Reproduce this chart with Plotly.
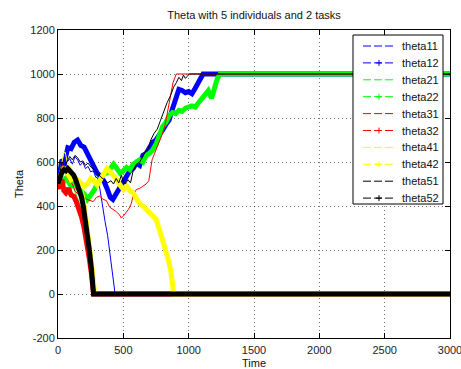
import plotly.graph_objects as go

# Series names, colours and line kinds (thin dashed "1" series, thick "+" series)
names = ["theta11", "theta12", "theta21", "theta22", "theta31",
         "theta32", "theta41", "theta42", "theta51", "theta52"]
colors = ["#0000ff", "#0000ff", "#00ff00", "#00ff00", "#ff0000",
          "#ff0000", "#ffff00", "#ffff00", "#000000", "#000000"]

x_ticks = [0, 500, 1000, 1500, 2000, 2500, 3000]
y_ticks = [-200, 0, 200, 400, 600, 800, 1000, 1200]

t11 = [0, 15, 30, 50, 70, 90, 110, 130, 150, 170, 190, 210, 230, 250, 270, 290,
       300, 320, 340, 360, 380, 395, 410, 425, 437, 3000]
v11 = [500, 540, 575, 560, 600, 615, 590, 625, 610, 585, 600, 570, 580, 555, 560, 530,
       530, 480, 400, 330, 265, 200, 130, 60, 0, 0]

t12 = [0, 15, 30, 50, 75, 100, 125, 150, 175, 200, 225, 250, 275, 300, 325, 350,
       375, 400, 420, 440, 460, 480, 500, 525, 550, 575, 600, 625, 650, 675, 700,
       725, 750, 775, 800, 825, 850, 875, 900, 925, 950, 975, 1000, 1025, 1050,
       1075, 1095, 1110, 3000]
v12 = [500, 560, 610, 600, 665, 660, 690, 700, 675, 668, 640, 610, 585, 550, 535, 515,
       480, 440, 430, 450, 470, 490, 505, 530, 560, 570, 595, 585, 630, 640, 670,
       690, 700, 720, 745, 770, 790, 840, 890, 930, 925, 915, 920, 910, 935,
       960, 990, 1000, 1000]

t21 = [0, 20, 40, 60, 80, 100, 120, 140, 160, 180, 200, 220, 240, 260, 280, 3000]
v21 = [500, 530, 555, 540, 520, 505, 480, 450, 420, 380, 320, 250, 170, 90, 0, 0]

t22 = [0, 20, 40, 60, 80, 100, 125, 150, 175, 200, 225, 250, 275, 300, 325, 350,
       375, 400, 425, 450, 475, 500, 525, 550, 575, 600, 625, 650, 675, 700, 725,
       750, 775, 800, 825, 850, 875, 900, 925, 950, 975, 1000, 1025, 1050, 1075,
       1100, 1125, 1150, 1175, 1200, 1220, 1240, 3000]
v22 = [500, 520, 505, 530, 510, 490, 515, 480, 470, 455, 430, 450, 470, 500, 520, 545,
       550, 575, 590, 570, 550, 560, 575, 565, 590, 600, 610, 600, 630, 640, 655,
       680, 715, 760, 780, 810, 825, 820, 835, 830, 845, 850, 855, 850, 870,
       890, 905, 925, 890, 950, 980, 1000, 1000]

t31 = [0, 15, 30, 50, 70, 90, 110, 130, 150, 175, 200, 220, 245, 270, 295, 320,
       345, 370, 395, 420, 445, 470, 485, 500, 520, 540, 560, 580, 600, 625, 650,
       675, 695, 705, 720, 740, 760, 780, 800, 820, 840, 860, 880, 905, 3000]
v31 = [500, 550, 590, 555, 530, 510, 500, 470, 455, 450, 440, 430, 425, 420, 440, 445,
       430, 425, 395, 385, 375, 360, 345, 355, 370, 385, 410, 455, 475, 480, 490,
       500, 515, 560, 610, 640, 670, 700, 730, 770, 830, 900, 960, 1000, 1000]

t32 = [0, 15, 30, 45, 60, 80, 100, 120, 140, 160, 180, 200, 220, 240, 255, 272, 3000]
v32 = [500, 480, 520, 470, 460, 480, 450, 445, 420, 390, 350, 300, 240, 160, 95, 0, 0]

t41 = [0, 15, 30, 45, 55, 70, 90, 110, 130, 150, 170, 190, 210, 230, 250, 270, 285,
       295, 3000]
v41 = [500, 560, 600, 640, 645, 600, 585, 560, 540, 530, 520, 480, 420, 340, 250, 150, 70,
       0, 0]

t42 = [0, 20, 40, 60, 80, 100, 125, 150, 175, 200, 225, 250, 275, 300, 325, 350,
       375, 400, 425, 450, 475, 500, 525, 550, 575, 600, 625, 650, 675, 700, 725,
       750, 775, 800, 825, 845, 865, 878, 885, 3000]
v42 = [500, 545, 575, 560, 540, 520, 530, 520, 505, 490, 500, 525, 515, 495, 520, 550,
       570, 555, 540, 520, 495, 475, 490, 470, 460, 430, 410, 400, 385, 370, 355,
       340, 295, 250, 200, 155, 100, 45, 0, 0]

t51 = [0, 15, 30, 50, 70, 90, 110, 130, 150, 170, 190, 210, 230, 255, 280, 305,
       330, 355, 380, 405, 425, 445, 465, 485, 500, 515, 535, 555, 575, 600, 625,
       650, 670, 690, 710, 735, 760, 785, 810, 835, 860, 885, 905, 925, 945, 960,
       975, 990, 1005, 3000]
v51 = [500, 560, 600, 580, 605, 625, 610, 630, 620, 600, 605, 585, 595, 575, 565, 545,
       530, 520, 505, 515, 500, 525, 505, 540, 510, 500, 520, 505, 560, 590, 600,
       625, 650, 660, 700, 730, 750, 790, 830, 870, 900, 940, 960, 985, 970, 995,
       980, 990, 1000, 1000]

t52 = [0, 15, 30, 45, 60, 75, 90, 105, 120, 135, 150, 165, 180, 195, 210, 225, 240,
       255, 265, 272, 3000]
v52 = [500, 530, 555, 565, 560, 570, 560, 545, 540, 520, 495, 470, 440, 395, 340, 280,
       200, 120, 60, 0, 0]

times = [t11, t12, t21, t22, t31, t32, t41, t42, t51, t52]
values = [v11, v12, v21, v22, v31, v32, v41, v42, v51, v52]

FONT = "Liberation Sans, Arial, sans-serif"
W, H = 461, 369
ML, MR, MT, MB = 58, 11, 30, 31

fig = go.Figure()
for name, col, t, v in zip(names, colors, times, values):
    thick = name.endswith("2")
    fig.add_trace(go.Scatter(
        x=t, y=v, mode="lines", name=name, showlegend=False,
        line=dict(color=col, width=5 if thick else 1),
        hoverinfo="x+y+name",
    ))

# Legend box drawn in pixel space of the page, converted to paper units
PW, PH = W - ML - MR, H - MT - MB


def px(x):
    return (x - ML) / PW


def py(y):
    return (H - MB - y) / PH


shapes = [dict(type="rect", xref="paper", yref="paper",
               x0=px(353), x1=px(443), y0=py(204), y1=py(35),
               line=dict(color="black", width=1), fillcolor="white", layer="above")]
annotations = []
for i, (name, col) in enumerate(zip(names, colors)):
    yy = 46 + i * 16.9
    shapes.append(dict(type="line", xref="paper", yref="paper",
                       x0=px(363), x1=px(395), y0=py(yy), y1=py(yy),
                       line=dict(color=col, width=1, dash="8px,3px"), layer="above"))
    if name.endswith("2"):
        shapes.append(dict(type="line", xref="paper", yref="paper",
                           x0=px(376), x1=px(382), y0=py(yy), y1=py(yy),
                           line=dict(color=col, width=1), layer="above"))
        shapes.append(dict(type="line", xref="paper", yref="paper",
                           x0=px(379), x1=px(379), y0=py(yy - 3), y1=py(yy + 3),
                           line=dict(color=col, width=1), layer="above"))
    annotations.append(dict(xref="paper", yref="paper", x=px(400), y=py(yy),
                            text=name, showarrow=False, xanchor="left",
                            yanchor="middle", font=dict(family=FONT, size=11, color="#111")))

axis_common = dict(
    showline=True, linecolor="black", linewidth=1, mirror="ticks",
    ticks="inside", ticklen=5, tickcolor="black", ticklabeloverflow="allow",
    automargin=False,
    showgrid=True, gridcolor="rgba(0,0,0,0.55)", griddash="1px,3px", gridwidth=1,
    zeroline=False, tickfont=dict(family=FONT, size=11, color="#222"),
)

fig.update_layout(
    width=W, height=H, autosize=False,
    margin=dict(l=ML, r=MR, t=MT, b=MB),
    paper_bgcolor="white", plot_bgcolor="white",
    title=dict(text="Theta with 5 individuals and 2 tasks", x=0.5, xref="paper",
               y=1 - 15 / H, yanchor="middle", automargin=False,
               font=dict(family=FONT, size=11, color="#111")),
    xaxis=dict(range=[0, 3000], tickvals=x_ticks, ticktext=[str(v) for v in x_ticks],
               ticklabelstandoff=2,
               title=dict(text="Time", font=dict(family=FONT, size=11, color="#111"),
                          standoff=8),
               **axis_common),
    yaxis=dict(range=[-200, 1200], tickvals=y_ticks, ticktext=[str(v) for v in y_ticks],
               title=dict(text="Theta", font=dict(family=FONT, size=11, color="#111"),
                          standoff=4),
               **axis_common),
    shapes=shapes, annotations=annotations, showlegend=False,
)

fig.write_html("out.html")
